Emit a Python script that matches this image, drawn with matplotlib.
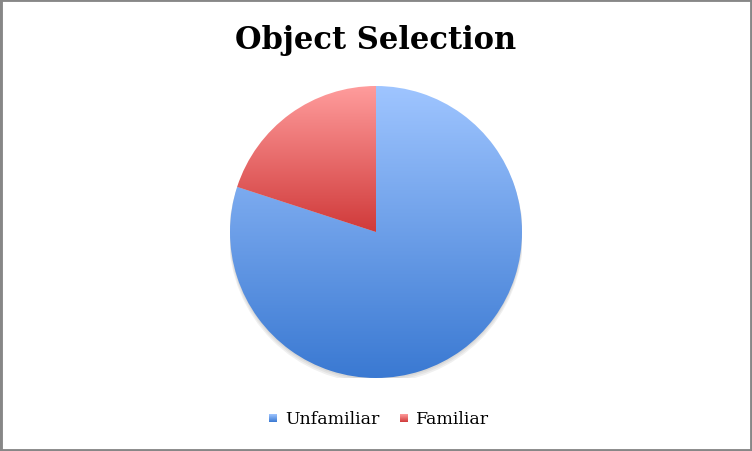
import numpy as np
import matplotlib
matplotlib.use("Agg")
import matplotlib.pyplot as plt
from matplotlib.colors import LinearSegmentedColormap
from matplotlib.patches import Rectangle, Circle

# data
labels = ["Unfamiliar", "Familiar"]
values = [80, 20]
top_colors = ["#9fc5ff", "#ff9c9c"]
bottom_colors = ["#3a79d2", "#d03a3a"]

W, H = 752, 452
fig = plt.figure(figsize=(W / 100, H / 100), dpi=100)

# grey frame around the chart
fig.patches.append(Rectangle((0, 0), 1, 1, transform=fig.transFigure,
                             fill=False, edgecolor="#878787", linewidth=3.5))

# axes box = pie bounding box (center 376,233 r=146 in pixels)
ax = fig.add_axes([230 / W, (H - 379) / H, 292 / W, 292 / H])
ax.axis("off")

# soft shadow under the pie
for i, a in enumerate([0.05, 0.05, 0.06]):
    ax.add_patch(Circle((0, -0.012 - 0.008 * i), 1.0 + 0.004 * i,
                        facecolor="black", alpha=a, edgecolor="none", zorder=0))

wedges, _ = ax.pie(values, startangle=90, counterclock=False, radius=1,
                   wedgeprops=dict(linewidth=0))

grad = np.linspace(0, 1, 256).reshape(-1, 1)
cmaps = [LinearSegmentedColormap.from_list("g%d" % i, [c1, c2])
         for i, (c1, c2) in enumerate(zip(top_colors, bottom_colors))]
for w, cmap in zip(wedges, cmaps):
    w.set_facecolor("none")
    verts = w.get_path().vertices
    im = ax.imshow(grad, cmap=cmap, origin="upper", aspect="auto", zorder=2,
                   extent=[verts[:, 0].min(), verts[:, 0].max(),
                           verts[:, 1].min(), verts[:, 1].max()])
    im.set_clip_path(w)
ax.set_xlim(-1, 1)
ax.set_ylim(-1, 1)

fig.text(376 / W, 1 - 41 / H, "Object Selection", ha="center", va="center",
         fontsize=22, fontweight="bold", family="DejaVu Serif")

# legend: small gradient squares + labels
marker_x = [269, 400]
for x, lab, cmap in zip(marker_x, labels, cmaps):
    lax = fig.add_axes([x / W, (H - 423) / H, 8 / W, 8 / H])
    lax.imshow(grad, cmap=cmap, aspect="auto")
    lax.axis("off")
    fig.text((x + 16) / W, 1 - 420 / H, lab, ha="left", va="center",
             fontsize=12.5, family="DejaVu Serif")

fig.savefig("out.png", dpi=100)
